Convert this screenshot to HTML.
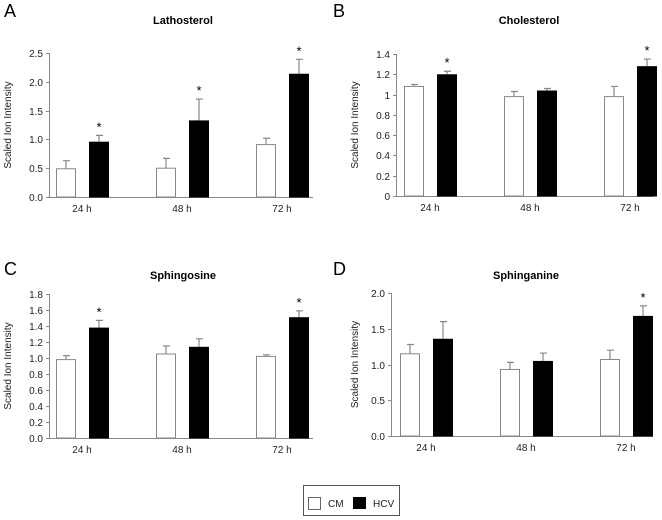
<!DOCTYPE html>
<html><head><meta charset="utf-8"><style>
html,body{margin:0;padding:0;background:#fff;}
svg{display:block;font-family:"Liberation Sans",Arial,sans-serif;}
</style></head><body>
<svg id="chart" width="662" height="520" viewBox="0 0 662 520">
  <g>
    <rect x="303.5" y="485.5" width="96" height="30" fill="#fff" stroke="#555"/>
    <rect x="308.5" y="497.5" width="12" height="12" fill="#fff" stroke="#666"/>
    <text x="328" y="507" font-size="10" fill="#222">CM</text>
    <rect x="353" y="497" width="13" height="12" fill="#000"/>
    <text x="373" y="507" font-size="10" fill="#222">HCV</text>
  </g>
</svg>
<script>
const categories = ["24 h","48 h","72 h"];
const latCM = [0.49,0.50,0.91], latCMerr = [0.14,0.17,0.11];
const latHCV = [0.96,1.33,2.14], latHCVerr = [0.11,0.37,0.25];
const latStar = [true,true,true];
const latTicks = ["0.0","0.5","1.0","1.5","2.0","2.5"];
const choCM = [1.08,0.98,0.98], choCMerr = [0.02,0.05,0.10];
const choHCV = [1.20,1.04,1.28], choHCVerr = [0.03,0.02,0.07];
const choStar = [true,false,true];
const choTicks = ["0","0.2","0.4","0.6","0.8","1","1.2","1.4"];
const sgoCM = [0.98,1.05,1.02], sgoCMerr = [0.05,0.10,0.02];
const sgoHCV = [1.38,1.14,1.51], sgoHCVerr = [0.09,0.10,0.08];
const sgoStar = [true,false,true];
const sgoTicks = ["0.0","0.2","0.4","0.6","0.8","1.0","1.2","1.4","1.6","1.8"];
const sgaCM = [1.15,0.93,1.07], sgaCMerr = [0.13,0.10,0.13];
const sgaHCV = [1.36,1.05,1.68], sgaHCVerr = [0.24,0.11,0.14];
const sgaStar = [false,false,true];
const sgaTicks = ["0.0","0.5","1.0","1.5","2.0"];

const svg = document.getElementById('chart');
const NS = 'http://www.w3.org/2000/svg';
function mk(tag, attrs, parent){
  const e = document.createElementNS(NS, tag);
  for (const k in attrs) e.setAttribute(k, attrs[k]);
  parent.appendChild(e); return e;
}
function panel(p){
  const g = mk('g', {}, svg);
  
  
  const tmax = parseFloat(p.ticks[p.ticks.length-1]);
  const y = v => p.y0 - (v / tmax) * (p.y0 - p.yTop);
  const lt = mk('text', {x:p.lx, y:p.ly, 'font-size':18, fill:'#000'}, g);
  lt.textContent = p.letter;
  
  
  const tt = mk('text', {x:p.tx, y:p.ty, 'font-size':11, 'font-weight':'bold', 'text-anchor':'middle', fill:'#000'}, g);
  tt.textContent = p.title;
  
  
  const yt = mk('text', {x:0, y:0, 'font-size':10, 'text-anchor':'middle', fill:'#222', transform:`translate(${p.ytx},${(p.y0+p.yTop)/2}) rotate(-90)`}, g);
  yt.textContent = 'Scaled Ion Intensity';
  
  
  const ax = mk('path', {d:`M${p.ax+0.5},${p.yTop} V${p.y0+0.5} H${p.axEnd}`, stroke:'#888', fill:'none', 'stroke-width':1}, g);
  
  
  p.ticks.forEach(t => {
    const yy = Math.round(y(parseFloat(t))) + 0.5;
    const tk = mk('line', {x1:p.ax-3, x2:p.ax+0.5, y1:yy, y2:yy, stroke:'#888'}, g);
    
    
    const tl = mk('text', {x:p.ax-6, y:yy+3.5, 'font-size':10, 'text-anchor':'end', fill:'#222'}, g);
    tl.textContent = t;
    
    
  });
  categories.forEach((c, i) => {
    const base = p.bx + i * 100;
    const bars = [[p.cm[i], p.cmErr[i], base, 'cm'], [p.hcv[i], p.hcvErr[i], base + 33, 'hcv']];
    bars.forEach(([v, e, x, s]) => {
      const top = y(v);
      const ey = y(v + e);
      const cx = x + 10;
      const el = mk('path', {d:`M${cx},${top} V${ey} M${cx-3},${ey} H${cx+4}`, stroke:'#888', 'stroke-width':1.2, fill:'none'}, g);
      
      
      const r = s === 'cm'
        ? mk('rect', {x:x+0.5, y:top, width:19, height:p.y0 - top, fill:'#fff', stroke:'#888', 'stroke-width':1}, g)
        : mk('rect', {x:x, y:top, width:20, height:p.y0 - top + 0.5, fill:'#000'}, g);
      
      
      if (s === 'hcv' && p.star[i]) {
        const st = mk('text', {x:cx, y:ey - 4, 'font-size':13, 'text-anchor':'middle', fill:'#000'}, g);
        st.textContent = '*';
        
        
      }
    });
    const cl = mk('text', {x:base + 26, y:p.y0 + 15, 'font-size':10, 'text-anchor':'middle', fill:'#222'}, g);
    cl.textContent = c;
    
    
  });
}
panel({id:'lathosterol', letter:'A', lx:4, ly:17, title:'Lathosterol', tx:183, ty:24, ytx:11, ax:49, axEnd:313, yTop:53, y0:197, bx:56, ticks:latTicks, cm:latCM, cmErr:latCMerr, hcv:latHCV, hcvErr:latHCVerr, star:latStar});
panel({id:'cholesterol', letter:'B', lx:333, ly:17, title:'Cholesterol', tx:529, ty:24, ytx:358, ax:396, axEnd:653, yTop:54, y0:196, bx:404, ticks:choTicks, cm:choCM, cmErr:choCMerr, hcv:choHCV, hcvErr:choHCVerr, star:choStar});
panel({id:'sphingosine', letter:'C', lx:4, ly:275, title:'Sphingosine', tx:183, ty:279, ytx:11, ax:49, axEnd:313, yTop:294, y0:438, bx:56, ticks:sgoTicks, cm:sgoCM, cmErr:sgoCMerr, hcv:sgoHCV, hcvErr:sgoHCVerr, star:sgoStar});
panel({id:'sphinganine', letter:'D', lx:333, ly:275, title:'Sphinganine', tx:526, ty:279, ytx:358, ax:391, axEnd:653, yTop:293, y0:436, bx:400, ticks:sgaTicks, cm:sgaCM, cmErr:sgaCMerr, hcv:sgaHCV, hcvErr:sgaHCVerr, star:sgaStar});
</script>
</body></html>
